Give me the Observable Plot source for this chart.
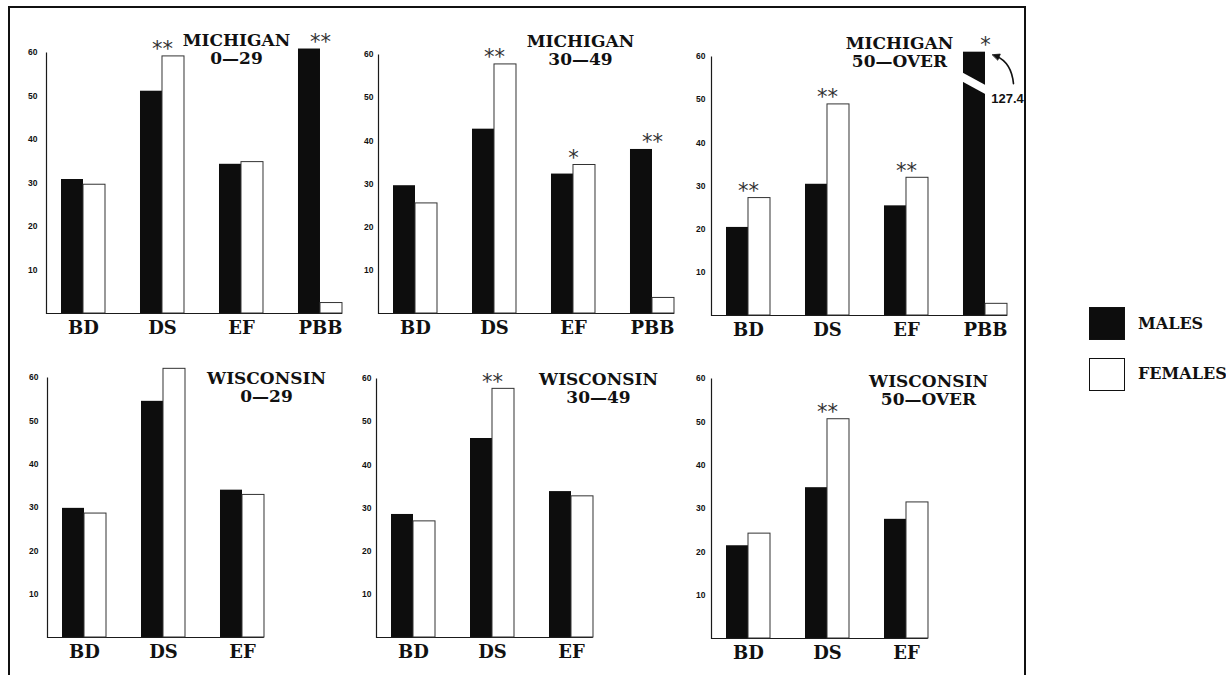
<!DOCTYPE html>
<html>
<head>
<meta charset="utf-8">
<script src="https://cdn.jsdelivr.net/npm/d3@7"></script>
<script src="https://cdn.jsdelivr.net/npm/@observablehq/plot@0.6"></script>
<style>
  body { margin: 0; background: #fff; }
  #chart { position: relative; width: 1226px; height: 675px; overflow: hidden; background: #fff; }
  .panel { position: absolute; }
  #border { position: absolute; left: 8px; top: 6px; width: 1018px; height: 740px; border: 2px solid #111; box-sizing: border-box; }
  .swatch { position: absolute; width: 36px; height: 33px; box-sizing: border-box; border: 1.5px solid #111; }
  .legend-label { position: absolute; font-family: "DejaVu Serif", serif; font-weight: bold; font-size: 16px; line-height: 16px; color: #111; }
</style>
</head>
<body>
<div id="chart">
  <div id="border"></div>
  <div class="swatch" style="left:1089px;top:307px;background:#0d0d0d;"></div>
  <div class="legend-label" style="left:1138px;top:316px;">MALES</div>
  <div class="swatch" style="left:1089px;top:358px;background:#fff;"></div>
  <div class="legend-label" style="left:1138px;top:366px;">FEMALES</div>
</div>
<script>
// ---------- data ----------
const yTicks = [10, 20, 30, 40, 50, 60];
const categoriesMichigan = ["BD", "DS", "EF", "PBB"];
const categoriesWisconsin = ["BD", "DS", "EF"];

const mi0029Males   = [30.8, 51.1, 34.3, 60.8];
const mi0029Females = [29.6, 59.1, 34.8, 2.4];
const mi0029Sig     = ["", "**", "", "**"];

const mi3049Males   = [29.6, 42.7, 32.3, 38.0];
const mi3049Females = [25.5, 57.7, 34.4, 3.6];
const mi3049Sig     = ["", "**", "*", "**"];

const mi50Males     = [20.4, 30.4, 25.4, 127.4];
const mi50Females   = [27.2, 48.9, 31.9, 2.7];
const mi50Sig       = ["**", "**", "**", "*"];

const wi0029Males   = [29.8, 54.5, 34.0];
const wi0029Females = [28.6, 62.0, 32.9];
const wi0029Sig     = ["", "", ""];

const wi3049Males   = [28.5, 46.1, 33.8];
const wi3049Females = [26.9, 57.6, 32.7];
const wi3049Sig     = ["", "**", ""];

const wi50Males     = [21.4, 34.8, 27.5];
const wi50Females   = [24.2, 50.6, 31.4];
const wi50Sig       = ["", "**", ""];

const brokenCap = 61;    // bars above this are drawn cut (broken) at this height
const breakAt = 53.7;    // where the break slash crosses the cut bar

const panels = [
  {title: "MICHIGAN\n0—29",     cats: categoriesMichigan,  males: mi0029Males, females: mi0029Females, sig: mi0029Sig},
  {title: "MICHIGAN\n30—49",    cats: categoriesMichigan,  males: mi3049Males, females: mi3049Females, sig: mi3049Sig},
  {title: "MICHIGAN\n50—OVER",  cats: categoriesMichigan,  males: mi50Males,   females: mi50Females,   sig: mi50Sig},
  {title: "WISCONSIN\n0—29",    cats: categoriesWisconsin, males: wi0029Males, females: wi0029Females, sig: wi0029Sig},
  {title: "WISCONSIN\n30—49",   cats: categoriesWisconsin, males: wi3049Males, females: wi3049Females, sig: wi3049Sig},
  {title: "WISCONSIN\n50—OVER", cats: categoriesWisconsin, males: wi50Males,   females: wi50Females,   sig: wi50Sig}
];

// ---------- layout (pixels) ----------
const layout = [
  {axisX: 46,  y60: 52,  y0: 313, top: 0,   tdx: 190, tdy: -20, tp: 9},
  {axisX: 378, y60: 54,  y0: 313, top: 0,   tdx: 202, tdy: -21, tp: 5},
  {axisX: 711, y60: 56,  y0: 315, top: 0,   tdx: 188, tdy: -21, tp: 6},
  {axisX: 47,  y60: 377, y0: 637, top: 330, tdx: 219, tdy: -7,  tp: 9},
  {axisX: 376, y60: 378, y0: 637, top: 330, tdx: 222, tdy: -7,  tp: 5},
  {axisX: 711, y60: 378, y0: 638, top: 330, tdx: 217, tdy: -5,  tp: 6}
];

const slashShape = {draw(context, l) { context.moveTo(0, 0); context.lineTo(0, -l); }};
const arrowCurve = {draw(context) { context.moveTo(0, 0); context.quadraticCurveTo(-2, -21, -17, -27.5); }};
const arrowHead  = {draw(context) { context.moveTo(-21, -29); context.lineTo(-13.2, -29.6); context.lineTo(-15.6, -23.8); context.closePath(); }};

const serif = "DejaVu Serif, serif";
const chart = document.getElementById("chart");

panels.forEach((p, k) => {
  const L = layout[k];
  const n = p.cats.length;
  const step = 79.4, bw = 44, lead = 13.5;
  const R = lead + (n - 1) * step + bw;
  const marginLeft = 46, marginRight = 60, marginBottom = 40;
  const marginTop = L.y60 - L.top;
  const H = L.y0 - L.y60;
  const width = marginLeft + R + marginRight;
  const height = L.y0 - L.top + marginBottom;
  const paddingInner = 1 - bw / step;
  const paddingOuter = (R / step - n + paddingInner) / 2;

  const rows = p.cats.map((c, i) => ({cat: c, male: p.males[i], female: p.females[i], sig: p.sig[i]}));
  const broken = rows.filter(d => d.male > brokenCap);
  const shown = d => Math.min(d.male, brokenCap);

  const svg = Plot.plot({
    width, height, marginLeft, marginRight, marginTop, marginBottom,
    style: {background: "transparent", overflow: "visible"},
    x: {domain: p.cats, paddingInner, paddingOuter, align: 1, label: null},
    y: {domain: [0, 60], label: null},
    marks: [
      Plot.frame({stroke: "#1a1a1a", strokeWidth: 1.2, strokeDasharray: `0,${R + H},${R + H + 4}`}),
      Plot.axisY(yTicks, {tickSize: 0, tickPadding: L.tp, fontSize: 8.5, fontWeight: "bold", fill: "#111", fontFamily: "Liberation Sans, sans-serif", label: null}),
      Plot.axisX({tickSize: 0, tickPadding: 8, fontSize: 18, fontWeight: "bold", fill: "#111", fontFamily: serif, label: null}),
      Plot.barY(rows, {x: "cat", y: shown, fill: "#0d0d0d", insetRight: bw / 2}),
      Plot.barY(rows, {x: "cat", y: "female", fill: "white", stroke: "#333", strokeWidth: 1, insetLeft: bw / 2}),
      Plot.text(rows.filter(d => d.sig), {x: "cat", y: d => Math.max(shown(d), d.female), text: "sig", dy: -7, fontSize: 21, fill: "#333", fontFamily: "DejaVu Sans, sans-serif", lineAnchor: "middle"}),
      Plot.text([p.title], {frameAnchor: "top-left", dx: L.tdx, dy: L.tdy, text: d => d, textAnchor: "middle", lineAnchor: "top", fill: "#111", fontFamily: serif, fontWeight: "bold", fontSize: 17, lineHeight: 1.1}),
      Plot.vector(broken, {x: "cat", y: () => breakAt, dx: -bw / 4, length: 34, rotate: 118.6, anchor: "middle", shape: slashShape, stroke: "white", strokeWidth: 8, strokeLinecap: "butt"}),
      Plot.vector(broken, {x: "cat", y: () => breakAt, dx: 28, anchor: "start", shape: arrowCurve, stroke: "#111", strokeWidth: 1.6, fill: "none"}),
      Plot.vector(broken, {x: "cat", y: () => breakAt, dx: 28, anchor: "start", shape: arrowHead, stroke: "#111", strokeWidth: 0.8, fill: "#111"}),
      Plot.text(broken, {x: "cat", y: () => breakAt, dx: 22, dy: 15, text: d => String(d.male), fill: "#111", fontFamily: "Liberation Sans, sans-serif", fontWeight: "bold", fontSize: 13})
    ]
  });
  svg.classList.add("panel");
  svg.style.left = (L.axisX - marginLeft) + "px";
  svg.style.top = L.top + "px";
  chart.appendChild(svg);
});
</script>
</body>
</html>
